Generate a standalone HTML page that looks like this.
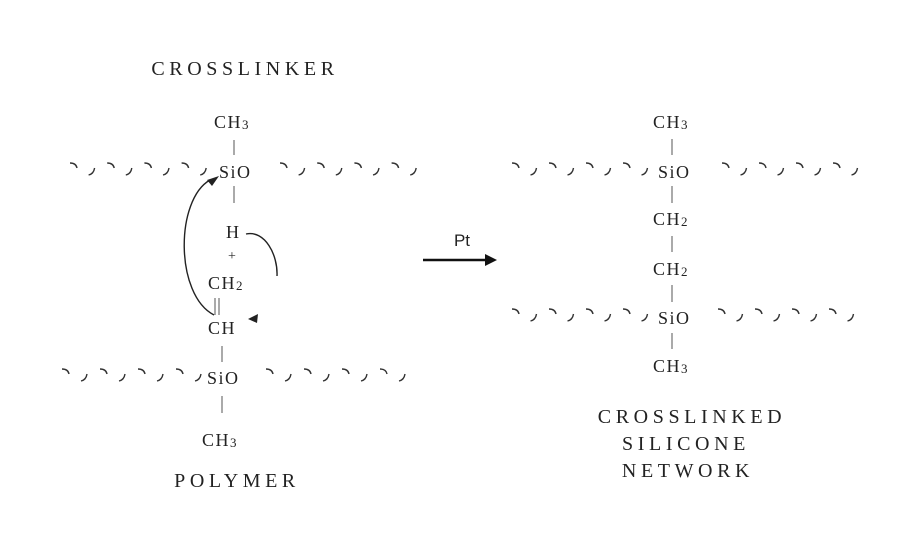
<!DOCTYPE html>
<html><head><meta charset="utf-8"><style>
html,body{margin:0;padding:0;background:#fff;}
svg{display:block;}
text{font-family:"Liberation Serif",serif;fill:#222;}
.m{font-size:18px;letter-spacing:1.5px;}
.lb{font-size:20px;letter-spacing:4.6px;}
</style></head><body>
<svg id="s" width="900" height="550" viewBox="0 0 900 550" xmlns="http://www.w3.org/2000/svg">
<g fill="none" stroke="#333" stroke-width="1.4" id="w"></g>
<text class="lb" x="245" y="75" text-anchor="middle">CROSSLINKER</text>
<text class="lb" x="237" y="487" text-anchor="middle">POLYMER</text>
<text class="lb" x="692" y="423" text-anchor="middle">CROSSLINKED</text>
<text class="lb" x="686" y="450" text-anchor="middle">SILICONE</text>
<text class="lb" x="688" y="477" text-anchor="middle">NETWORK</text>
<text style="font-size:17px;font-family:'Liberation Sans',sans-serif" x="462" y="246" text-anchor="middle">Pt</text>
<line x1="423" y1="260" x2="488" y2="260" stroke="#111" stroke-width="2.5"/>
<polygon points="497,260 485,254 485,266" fill="#111"/>
<!-- left -->
<text class="m" x="214" y="128">CH<tspan font-size="13" dy="1">3</tspan></text>
<line x1="234" y1="140" x2="234" y2="155" stroke="#555"/>
<text class="m" x="219" y="178">SiO</text>
<line x1="234" y1="186" x2="234" y2="203" stroke="#555"/>
<text class="m" x="226" y="238">H</text>
<text style="font-size:14px" x="228" y="260">+</text>
<text class="m" x="208" y="289">CH<tspan font-size="13" dy="1">2</tspan></text>
<line x1="215" y1="298" x2="215" y2="315" stroke="#555"/>
<line x1="219" y1="298" x2="219" y2="315" stroke="#555"/>
<text class="m" x="208" y="334">CH</text>
<line x1="222" y1="346" x2="222" y2="362" stroke="#555"/>
<text class="m" x="207" y="384">SiO</text>
<line x1="222" y1="396" x2="222" y2="413" stroke="#555"/>
<text class="m" x="202" y="446">CH<tspan font-size="13" dy="1">3</tspan></text>
<path d="M214,315 C175,295 175,200 210,180" fill="none" stroke="#222" stroke-width="1.4"/>
<polygon points="219,176 207,180 212,186" fill="#222"/>
<path d="M246,234 C265,230 278,255 277,276" fill="none" stroke="#222" stroke-width="1.4"/>
<polygon points="248,319 258,314 257,323" fill="#222"/>
<!-- right -->
<text class="m" x="653" y="128">CH<tspan font-size="13" dy="1">3</tspan></text>
<line x1="672" y1="139" x2="672" y2="155" stroke="#555"/>
<text class="m" x="658" y="178">SiO</text>
<line x1="672" y1="186" x2="672" y2="203" stroke="#555"/>
<text class="m" x="653" y="225">CH<tspan font-size="13" dy="1">2</tspan></text>
<line x1="672" y1="236" x2="672" y2="252" stroke="#555"/>
<text class="m" x="653" y="275">CH<tspan font-size="13" dy="1">2</tspan></text>
<line x1="672" y1="285" x2="672" y2="302" stroke="#555"/>
<text class="m" x="658" y="324">SiO</text>
<line x1="672" y1="333" x2="672" y2="349" stroke="#555"/>
<text class="m" x="653" y="372">CH<tspan font-size="13" dy="1">3</tspan></text>
</svg>
<script>
var g=document.getElementById('w'),d='';
function row(x0,y,n,step){for(var i=0;i<n;i++){var x=x0+i*step;
 if(i%2==0){d+='M'+x+','+(y-7)+' q6,0 7,5 ';}else{d+='M'+x+','+(y+5)+' q5,-1 6,-7 ';}}}
row(70,170,8,18.6);row(280,170,8,18.6);
row(62,376,8,19);row(266,376,8,19);
row(512,170,8,18.5);row(722,170,8,18.5);
row(512,316,8,18.5);row(718,316,8,18.5);
var p=document.createElementNS('http://www.w3.org/2000/svg','path');p.setAttribute('d',d);g.appendChild(p);
</script>
</body></html>
